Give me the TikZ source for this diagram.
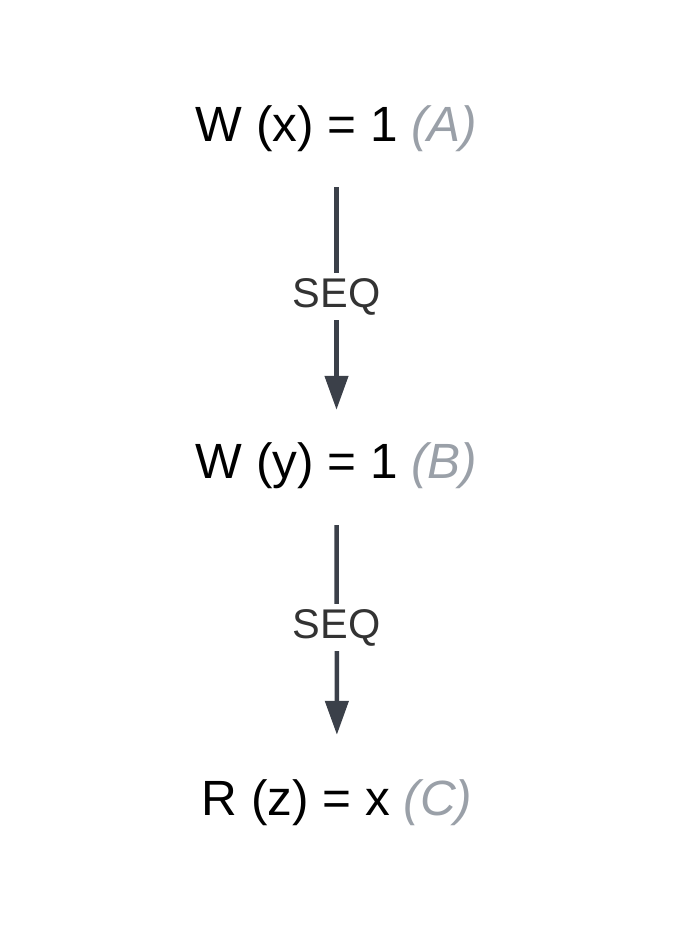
\documentclass[tikz,border=0pt]{standalone}
\usepackage{fontspec}
\setmainfont{Liberation Sans}
\usetikzlibrary{arrows.meta}
\definecolor{linegrey}{HTML}{3B4049}
\definecolor{labelgrey}{HTML}{333333}
\definecolor{taggrey}{HTML}{9AA0A8}
\tikzset{
	op/.style={anchor=base, inner sep=0pt, text height=36pt, text depth=10pt, font=\fontsize{49.5}{58}\selectfont},
	seq/.style={line width=4.5pt, draw=linegrey, -{Triangle[length=34pt,width=23pt]}},
	seqlabel/.style={fill=white, inner sep=5pt, text height=29pt, text depth=8pt, text=labelgrey, font=\fontsize{41.5}{50}\selectfont}
}
\newcommand{\optag}[1]{\textcolor{taggrey}{\itshape(#1)}}
\begin{document}
\begin{tikzpicture}[x=1pt, y=-1pt]
	\useasboundingbox (0,0) rectangle (675,951);
	
	\node [op] (A) at (336.5,141) {W (x) = 1 \optag{A}};
	\node [op] (B) at (336.5,478) {W (y) = 1 \optag{B}};
	\node [op] (C) at (337,815) {R (z) = x \optag{C}};
	
	\draw [seq, shorten <=36pt, shorten >=32pt] (A) -- (B) node [seqlabel, midway] {SEQ};
	\draw [seq, shorten <=37pt, shorten >=44pt] (B) -- (C) node [seqlabel, pos=0.48] {SEQ};
\end{tikzpicture}
\end{document}
